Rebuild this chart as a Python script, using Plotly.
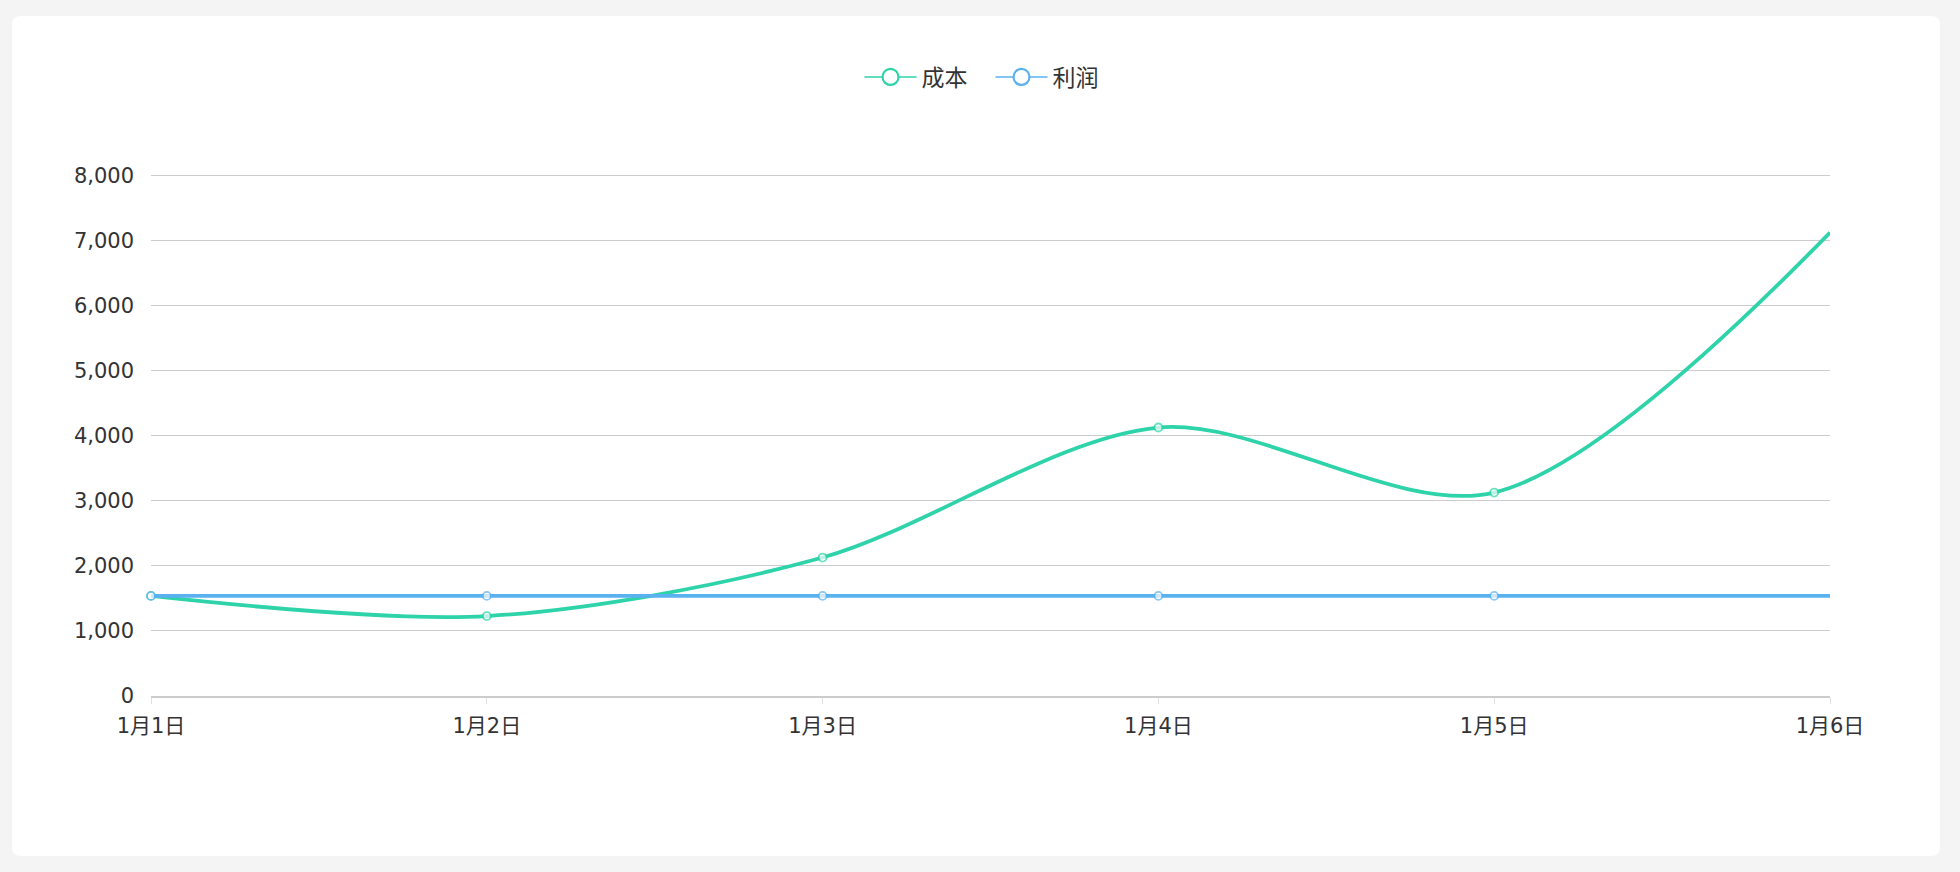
import plotly.graph_objects as go

# ---- data ----
categories = ["1月1日", "1月2日", "1月3日", "1月4日", "1月5日", "1月6日"]
cost = [1540, 1230, 2130, 4130, 3130, 7130]
profit = [1540, 1540, 1540, 1540, 1540, 1540]
series_names = ["成本", "利润"]
y_tickvals = [0, 1000, 2000, 3000, 4000, 5000, 6000, 7000, 8000]
y_ticktext = ["0", "1,000", "2,000", "3,000", "4,000", "5,000", "6,000", "7,000", "8,000"]

GREEN = "#2ED3A9"
BLUE = "#5AB1EF"
FONT = "DejaVu Sans, Noto Sans CJK SC, sans-serif"

W, H = 1960, 872
L, R, T, B = 151, 130, 174, 176
pw, ph = W - L - R, H - T - B

def px_x(x):
    return (x - L) / pw

def px_y(y):
    return (H - B - y) / ph

# rounded card path in paper coords
cx0, cy0, cx1, cy1, rad = 12, 16, 1940, 856, 9
def pt(x, y):
    return f"{px_x(x):.6f},{px_y(y):.6f}"
card_path = (
    f"M {pt(cx0 + rad, cy0)} L {pt(cx1 - rad, cy0)} Q {pt(cx1, cy0)} {pt(cx1, cy0 + rad)} "
    f"L {pt(cx1, cy1 - rad)} Q {pt(cx1, cy1)} {pt(cx1 - rad, cy1)} "
    f"L {pt(cx0 + rad, cy1)} Q {pt(cx0, cy1)} {pt(cx0, cy1 - rad)} "
    f"L {pt(cx0, cy0 + rad)} Q {pt(cx0, cy0)} {pt(cx0 + rad, cy0)} Z"
)

msizes = [8, 8, 8, 8, 8, 0]

fig = go.Figure()
for name, vals, col in [(series_names[0], cost, GREEN), (series_names[1], profit, BLUE)]:
    fig.add_trace(go.Scatter(
        x=categories, y=vals, name=name, mode="lines+markers", showlegend=False,
        line=dict(color=col, width=3.8, shape="spline", smoothing=0.9),
        marker=dict(size=msizes, color="white", line=dict(color=col, width=1.8)),
        cliponaxis=False,
    ))
# legend-only entries
for name, col in [(series_names[0], GREEN), (series_names[1], BLUE)]:
    fig.add_trace(go.Scatter(
        x=[None], y=[None], name=name, mode="lines+markers",
        line=dict(color=col, width=1.6),
        marker=dict(size=19, color="white", line=dict(color=col, width=2.2)),
    ))

fig.update_layout(
    width=W, height=H,
    margin=dict(l=L, r=R, t=T, b=B, pad=0),
    paper_bgcolor="#F4F4F4",
    plot_bgcolor="rgba(0,0,0,0)",
    font=dict(family=FONT, size=21, color="#333333"),
    shapes=[dict(type="path", xref="paper", yref="paper", path=card_path,
                 fillcolor="white", line=dict(width=0), layer="below")],
    legend=dict(orientation="h", x=0.5, xanchor="center", y=px_y(77), yanchor="middle",
                font=dict(size=23, color="#333333"), itemwidth=52, entrywidth=64,
                bgcolor="rgba(0,0,0,0)", traceorder="normal"),
    xaxis=dict(
        type="category", range=[0, len(categories) - 1],
        showgrid=False, showline=True, linecolor="#CCCCCC", linewidth=1.5,
        ticks="outside", ticklen=6, tickcolor="#E0E0E0", tickwidth=1,
        ticklabelstandoff=4, tickfont=dict(size=21, color="#333333"),
        zeroline=False,
    ),
    yaxis=dict(
        range=[0, 8030], tickvals=y_tickvals, ticktext=y_ticktext,
        showgrid=True, gridcolor="#CCCCCC", gridwidth=1.3,
        showline=False, zeroline=False, ticks="",
        ticklabelstandoff=16, tickfont=dict(size=21, color="#333333"),
    ),
    hovermode=False,
)

fig.write_html("out.html")
